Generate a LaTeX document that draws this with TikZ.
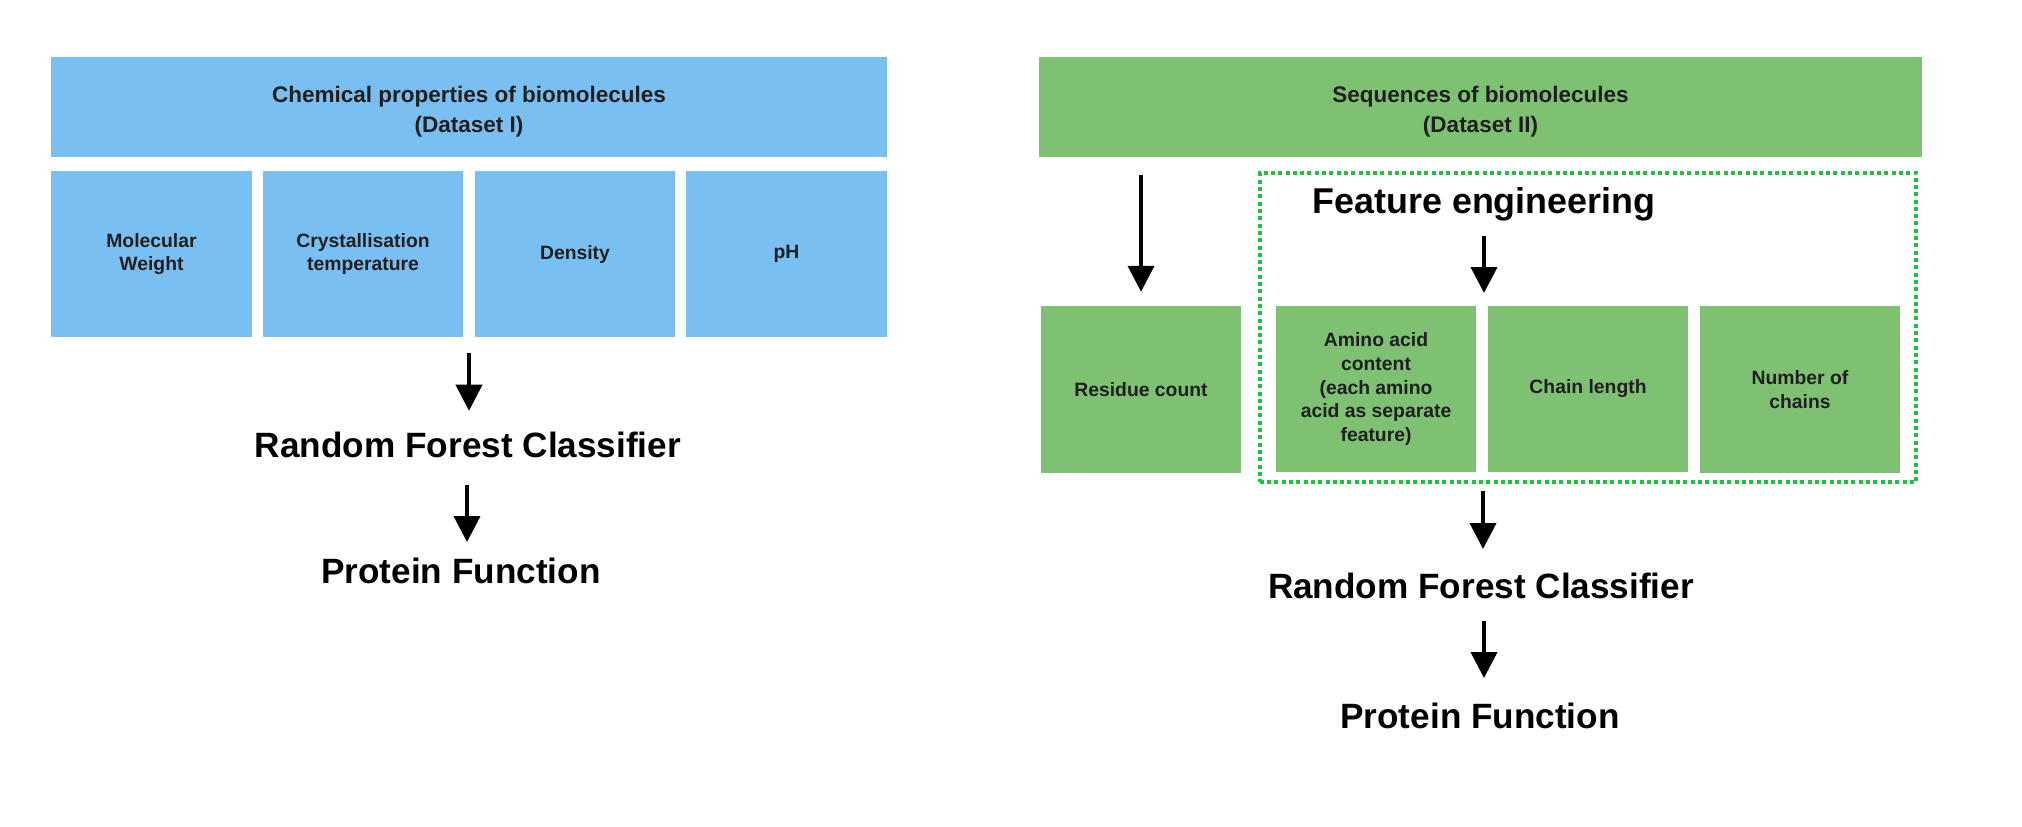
\documentclass[tikz,border=0pt]{standalone}
\usepackage{fontspec}
\setmainfont{Liberation Sans}
\usepackage{xcolor}
\usetikzlibrary{arrows.meta}
\definecolor{chemblue}{HTML}{79BFF1}
\definecolor{seqgreen}{HTML}{7EC172}
\definecolor{framegreen}{HTML}{1EC23C}
\tikzset{
  headbox/.style={rectangle, fill=#1, inner sep=0pt, minimum height=1cm, align=center, text=black!88, font=\fontsize{6.4}{8.5}\selectfont\bfseries},
  featbox/.style={rectangle, fill=#1, inner sep=0pt, minimum width=2.0cm, minimum height=1.66cm, align=center, text=black!88, font=\fontsize{5.5}{6.8}\selectfont\bfseries},
  biglabel/.style={anchor=base, inner sep=0pt, font=\fontsize{10}{12}\selectfont\bfseries},
  arrow/.style={-{Triangle[length=0.26cm, width=0.26cm]}, line width=0.04cm},
}
\begin{document}
\begin{tikzpicture}[x=0.01cm, y=-0.01cm]
    \useasboundingbox (0,0) rectangle (2022,826);
    \node[headbox=chemblue, minimum width=8.36cm] (dataL) at (469,107) {\rule{0pt}{2.2ex}Chemical properties of biomolecules\\(Dataset I)};
    \node[featbox=chemblue] (molw) at (151.5,254) {Molecular\\Weight};
    \node[featbox=chemblue] (cryst) at (363,254) {Crystallisation\\temperature};
    \node[featbox=chemblue] (dens) at (575,254) {Density};
    \node[featbox=chemblue] (ph) at (786.5,254) {pH};
    \node[biglabel] (rfcL) at (468,457) {Random Forest Classifier};
    \node[biglabel] (pfL) at (461,583) {Protein Function};
    \draw[arrow] (dataL.south) ++(0,195) -- ++(0,58);
    \draw[arrow] (rfcL.base) ++(-1,28) -- ++(0,57);

    \node[headbox=seqgreen, minimum width=8.83cm] (dataR) at (1480.5,107) {\rule{0pt}{2.2ex}Sequences of biomolecules\\(Dataset II)};
    \node[draw=framegreen, line width=0.04cm, dash pattern=on 0.04cm off 0.033cm, minimum width=6.56cm, minimum height=3.09cm, inner sep=0pt] (fe) at (1588,327.5) {};
    \node[biglabel, font=\fontsize{10.2}{12}\selectfont\bfseries] (feLabel) at (1484,213) {Feature engineering};
    \node[featbox=seqgreen] (resc) at (1141,389.5) {Residue count};
    \node[featbox=seqgreen] (amino) at (1376,389) {Amino acid\\content\\(each amino\\acid as separate\\feature)};
    \node[featbox=seqgreen] (chain) at (1588,389) {Chain length};
    \node[featbox=seqgreen] (nchain) at (1800,389.5) {Number of\\chains};
    \node[biglabel] (rfcR) at (1481,598) {Random Forest Classifier};
    \node[biglabel] (pfR) at (1480,728) {Protein Function};
    \draw[arrow] (resc.north) ++(0,-131) -- ++(0,117);
    \draw[arrow] (feLabel.base) ++(0,23) -- ++(0,57);
    \draw[arrow] (rfcR.base) ++(2,-107) -- ++(0,58);
    \draw[arrow] (rfcR.base) ++(3,23) -- ++(0,57);
\end{tikzpicture}
\end{document}
